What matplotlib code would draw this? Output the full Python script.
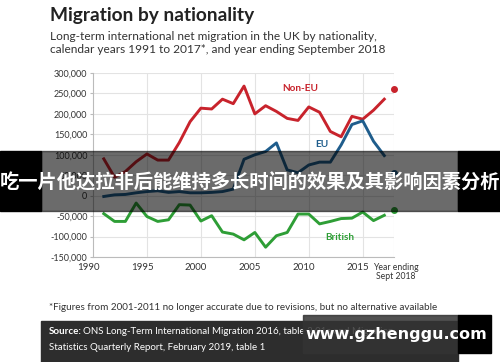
import matplotlib.pyplot as plt
from matplotlib.patches import Rectangle
from matplotlib.transforms import blended_transform_factory

years = list(range(1991, 2018))
non_eu = [90, 45, 59, 83, 102, 87, 87, 130, 181, 214, 212, 236, 225, 268, 200, 220, 206, 189, 184, 217, 204, 157, 144, 194, 187, 209, 236]
eu = [-2, 2, 3, 7, 10, 12, 8, 10, 7, 7, 8, 10, 16, 89, 100, 108, 129, 63, 56, 75, 82, 82, 124, 174, 183, 133, 98]
british = [-44, -63, -63, -18, -51, -63, -59, -22, -23, -62, -49, -89, -94, -108, -90, -126, -98, -90, -45, -45, -69, -63, -56, -55, -40, -61, -48]
latest = {'non_eu': 261, 'eu': 56, 'british': -36}   # year ending Sept 2018
latest_x = 2017.9

red = '#c8232c'
blue = '#1f5d8c'
green = '#2e9e36'

W, H = 500, 362
fig = plt.figure(figsize=(5, 3.62), dpi=100)
fig.patch.set_facecolor('white')

def fx(x):
    return x / W

def fy(y):
    return 1 - y / H

ax = fig.add_axes([fx(93), fy(257), fx(394) - fx(93), fy(73) - fy(257)])

k = 1000
ax.plot(years, [v * k for v in non_eu], color=red, lw=2.1)
ax.plot(years, [v * k for v in eu], color=blue, lw=2.1)
ax.plot(years, [v * k for v in british], color=green, lw=2.1)
ax.plot(latest_x, latest['non_eu'] * k, 'o', color=red, ms=4, clip_on=False)
ax.plot(latest_x, latest['eu'] * k, 'o', color=blue, ms=4, clip_on=False)
ax.plot(latest_x, latest['british'] * k, 'o', color=green, ms=4, clip_on=False)

ax.set_xlim(1990, latest_x)
ax.set_ylim(-150000, 300000)
ax.set_yticks(range(-150000, 300001, 50000))
ax.set_yticklabels([f'{v:,}' for v in range(-150000, 300001, 50000)],
                   fontsize=6.5, family='Lato', color='#333333')
ax.set_xticks([1995, 2000, 2005, 2010, 2015, latest_x])
ax.set_xticklabels([])
ax.tick_params(axis='x', length=0)
ax.tick_params(axis='y', length=2, color='#bbbbbb', pad=2)
ax.grid(True, color='#e3e3e3', lw=0.8)
ax.set_axisbelow(True)
for s in ['top', 'right']:
    ax.spines[s].set_visible(False)
for s in ['left', 'bottom']:
    ax.spines[s].set_color('#bbbbbb')
    ax.spines[s].set_linewidth(0.8)

tr = blended_transform_factory(ax.transData, ax.transAxes)
for yr in [1990, 1995, 2000, 2005, 2010, 2015]:
    ax.text(yr - 0.45, -0.035, str(yr), transform=tr, ha='center', va='top',
            fontsize=7, family='Lato', color='#333333')
ax.text(latest_x + 0.2, -0.035, 'Year ending\nSept 2018', transform=tr, ha='center',
        va='top', fontsize=6.2, family='Lato', color='#333333', linespacing=1.0)

ax.text(2009.2, 262000, 'Non-EU', color=red, fontsize=7.2, fontweight='bold',
        family='Lato', ha='center', va='center')
ax.text(2011.2, 125000, 'EU', color=blue, fontsize=7.2, fontweight='bold',
        family='Lato', ha='center', va='center')
ax.text(2012.9, -102000, 'British', color=green, fontsize=7.2, fontweight='bold',
        family='Lato', ha='center', va='center')

fig.text(fx(50), fy(16), 'Migration by nationality', fontsize=13.8, fontweight='bold',
         family='Lato', color='#222222', va='center')
fig.text(fx(50), fy(43), 'Long-term international net migration in the UK by nationality,\n'
         'calendar years 1991 to 2017*, and year ending September 2018',
         fontsize=8.6, family='Lato', color='#333333', va='center', linespacing=1.25)
fig.text(fx(49), fy(308), '*Figures from 2001-2011 no longer accurate due to revisions, '
         'but no alternative available', fontsize=7.1, family='Lato', color='#333333',
         va='center')

# source box
fig.add_artist(Rectangle((fx(41), fy(362)), fx(458) - fx(41), fy(321) - fy(362),
                         transform=fig.transFigure, color='#2d2d2d', zorder=5))
fig.text(fx(49), fy(332), 'Source:', fontsize=7, fontweight='bold', family='Lato',
         color='white', va='center', zorder=6)
fig.text(fx(83), fy(332), 'ONS Long-Term International Migration 2016, table 2.01a and Migration',
         fontsize=7, family='Lato', color='white', va='center', zorder=6)
fig.text(fx(49), fy(347), 'Statistics Quarterly Report, February 2019, table 1',
         fontsize=7, family='Lato', color='white', va='center', zorder=6)

# overlay banner
fig.add_artist(Rectangle((fx(41), fy(211)), fx(458) - fx(41), fy(151) - fy(211),
                         transform=fig.transFigure, color='black', alpha=0.58, zorder=10))
fig.add_artist(Rectangle((0, fy(211)), fx(41), fy(151) - fy(211),
                         transform=fig.transFigure, color='black', zorder=10))
fig.add_artist(Rectangle((fx(458), fy(211)), 1 - fx(458), fy(151) - fy(211),
                         transform=fig.transFigure, color='black', zorder=10))
fig.text(0.5, fy(183), '吃一片他达拉非后能维持多长时间的效果及其影响因素分析',
         family=['Noto Sans CJK SC', 'DejaVu Sans'], fontweight='bold', fontsize=13.9,
         color='white', ha='center', va='center', zorder=11)

# watermark
fig.add_artist(Rectangle((fx(303), fy(353)), fx(458) - fx(303), fy(315) - fy(353),
                         transform=fig.transFigure, color='#333333', alpha=0.85, zorder=10))
fig.add_artist(Rectangle((fx(458), fy(353)), fx(491) - fx(458), fy(315) - fy(353),
                         transform=fig.transFigure, color='black', zorder=10))
fig.text(fx(396), fy(334), 'www.gzhenggu.com', fontsize=11.5, fontweight='bold',
         color='white', ha='center', va='center', zorder=11)

fig.savefig('out.png', dpi=100)
